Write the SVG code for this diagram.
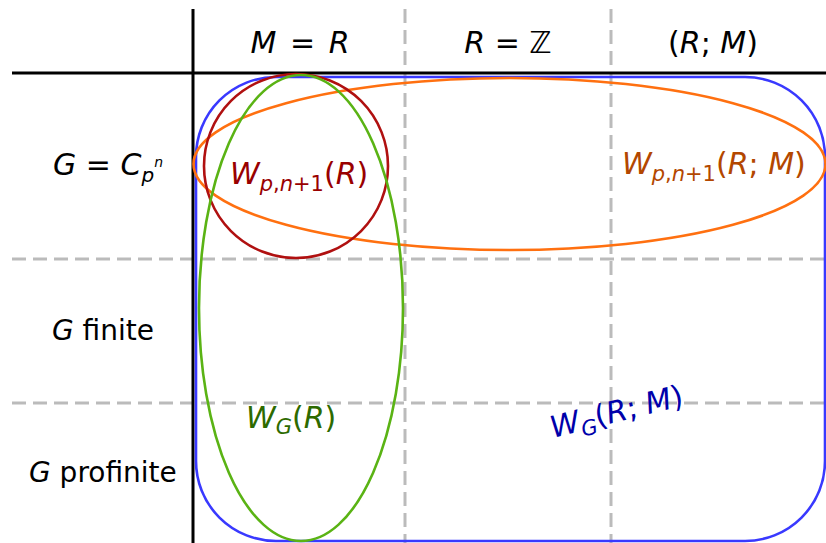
<svg xmlns="http://www.w3.org/2000/svg" width="826" height="543" viewBox="0 0 826 543">
<style>
text{font-family:"DejaVu Sans","Liberation Sans",sans-serif;font-size:30px;fill:#000}
.i{font-style:italic}
.row{font-size:28px}
.grid{stroke:#bbbbbb;stroke-width:3;stroke-dasharray:14 7;fill:none}
.axis{stroke:#000;stroke-width:3;fill:none}
.shape{fill:none;stroke-width:2.6}
</style>
<rect width="826" height="543" fill="#fff"/>
<g id="grid">
<line class="grid" x1="405" y1="9" x2="405" y2="543"/>
<line class="grid" x1="611" y1="9" x2="611" y2="543"/>
<line class="grid" x1="12" y1="259" x2="826" y2="259"/>
<line class="grid" x1="12" y1="403" x2="826" y2="403"/>
</g>
<g id="axes">
<line class="axis" x1="12" y1="73" x2="826" y2="73"/>
<line class="axis" x1="193" y1="9" x2="193" y2="543"/>
</g>
<g id="headers">
<text x="300" y="53" text-anchor="middle"><tspan class="i">M</tspan><tspan dx="4"> = </tspan><tspan class="i" dx="4">R</tspan></text>
<text x="508" y="53" text-anchor="middle"><tspan class="i">R</tspan> = ℤ</text>
<text x="713" y="53" text-anchor="middle">(<tspan class="i">R</tspan>; <tspan class="i">M</tspan>)</text>
<text x="53" y="175"><tspan class="i">G</tspan> = <tspan class="i">C</tspan><tspan class="i" font-size="20" dy="7">p</tspan><tspan class="i" font-size="14" dy="-15">n</tspan></text>
<text class="row" x="52" y="340"><tspan class="i">G</tspan> finite</text>
<text class="row" x="29" y="482"><tspan class="i">G</tspan> profinite</text>
</g>
<g id="WG-RM">
<rect class="shape" x="196" y="77" width="629" height="464" rx="80" ry="80" stroke="#3939ff"/>
<text x="553" y="438" transform="rotate(-14 553 438)" style="fill:#0000aa"><tspan class="i">W</tspan><tspan class="i" font-size="21" dy="6">G</tspan><tspan dy="-6">(</tspan><tspan class="i">R</tspan>; <tspan class="i">M</tspan>)</text>
</g>
<g id="Wpn-RM">
<ellipse class="shape" cx="509.5" cy="164" rx="316" ry="86" stroke="#ff7010"/>
<text x="622" y="174" style="fill:#b34700"><tspan class="i">W</tspan><tspan font-size="21" dy="7"><tspan class="i">p</tspan>,<tspan class="i">n</tspan>+1</tspan><tspan dy="-7">(</tspan><tspan class="i">R</tspan>; <tspan class="i">M</tspan>)</text>
</g>
<g id="Wpn-R">
<circle class="shape" cx="296" cy="166" r="92" stroke="#b01010"/>
<text x="230" y="184" style="fill:#990000"><tspan class="i">W</tspan><tspan font-size="21" dy="7"><tspan class="i">p</tspan>,<tspan class="i">n</tspan>+1</tspan><tspan dy="-7">(</tspan><tspan class="i">R</tspan>)</text>
</g>
<g id="WG-R">
<ellipse class="shape" cx="301" cy="308" rx="102" ry="233" stroke="#5ab314"/>
<text x="246" y="428" style="fill:#2d6a00"><tspan class="i">W</tspan><tspan class="i" font-size="21" dy="6">G</tspan><tspan dy="-6">(</tspan><tspan class="i">R</tspan>)</text>
</g>
</svg>
